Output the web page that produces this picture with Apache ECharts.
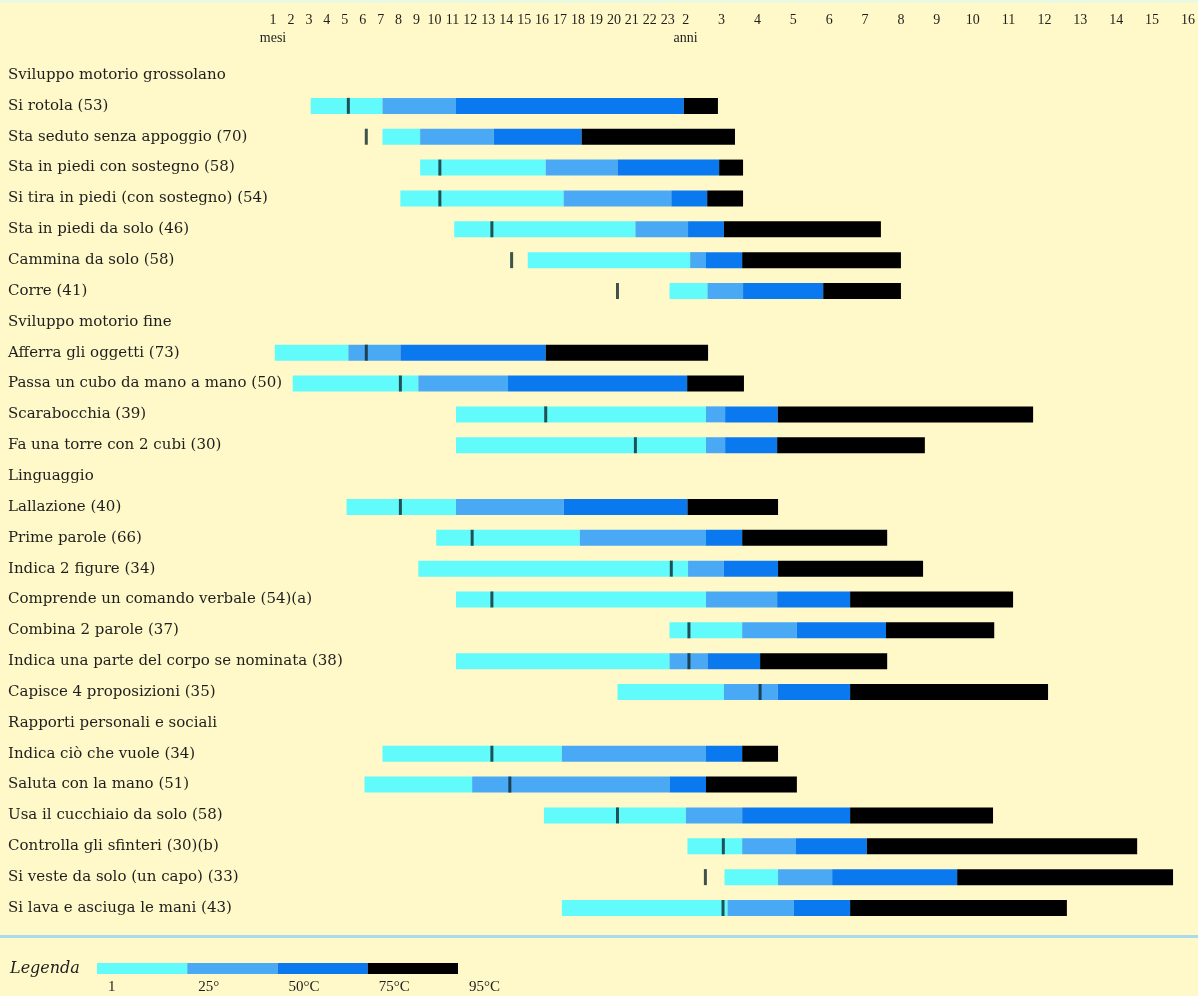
<!DOCTYPE html>
<html>
<head>
<meta charset="utf-8">
<script src="https://cdn.jsdelivr.net/npm/echarts/dist/echarts.min.js"></script>
<style>
html,body{margin:0;padding:0;background:#fff8c8;}
#chart{width:1198px;height:996px;}
</style>
</head>
<body>
<div id="chart"></div>
<script>
// ---- data (ages in months) ----
const categories = [
  'Sviluppo motorio grossolano',
  'Si rotola (53)',
  'Sta seduto senza appoggio (70)',
  'Sta in piedi con sostegno (58)',
  'Si tira in piedi (con sostegno) (54)',
  'Sta in piedi da solo (46)',
  'Cammina da solo (58)',
  'Corre (41)',
  'Sviluppo motorio fine',
  'Afferra gli oggetti (73)',
  'Passa un cubo da mano a mano (50)',
  'Scarabocchia (39)',
  'Fa una torre con 2 cubi (30)',
  'Linguaggio',
  'Lallazione (40)',
  'Prime parole (66)',
  'Indica 2 figure (34)',
  'Comprende un comando verbale (54)(a)',
  'Combina 2 parole (37)',
  'Indica una parte del corpo se nominata (38)',
  'Capisce 4 proposizioni (35)',
  'Rapporti personali e sociali',
  'Indica ciò che vuole (34)',
  'Saluta con la mano (51)',
  'Usa il cucchiaio da solo (58)',
  'Controlla gli sfinteri (30)(b)',
  'Si veste da solo (un capo) (33)',
  'Si lava e asciuga le mani (43)'
];
const startAge = [null, 3.1, 7.1, 9.2, 8.1, 11.1, 15.2, 23.1, null, 1.1, 2.1, 11.2, 11.2, null, 5.1, 10.1, 9.1, 11.2, 23.1, 11.2, 20.2, null, 7.1, 6.1, 16.1, 24.6, 37, 17.1];
const p25Age   = [null, 7.1, 9.2, 16.2, 17.2, 21.2, 25.5, 31.3, null, 5.2, 9.1, 30.8, 30.8, null, 11.2, 18.1, 24.8, 30.8, 42.9, 23.1, 36.8, null, 17.1, 12.1, 24.1, 42.9, 54.9, 38];
const p50Age   = [null, 11.2, 13.3, 20.2, 23.2, 24.8, 30.8, 43.2, null, 8.1, 14.1, 37.2, 37.2, null, 17.2, 30.8, 36.8, 54.6, 61.2, 31.3, 54.8, null, 30.8, 23.1, 42.9, 60.9, 73, 60.2];
const p75Age   = [null, 23.9, 18.2, 35.2, 31.2, 36.8, 42.9, 70, null, 16.2, 24.5, 54.8, 54.6, null, 24.6, 42.9, 54.9, 79, 91, 48.9, 79, null, 42.9, 30.8, 79, 84.6, 114.8, 79];
const p95Age   = [null, 34.8, 40.5, 43.2, 43.2, 89.3, 96, 96, null, 31.5, 43.5, 140.2, 104, null, 54.9, 91.4, 103.4, 133.5, 127.2, 91.4, 145.2, null, 54.9, 61.2, 126.8, 175, 187, 151.5];
const markerAge = [null, 5.2, 6.2, 10.3, 10.3, 13.2, 14.3, 20.2, null, 6.2, 8.1, 16.2, 21.2, null, 8.1, 12.1, 23.2, 13.2, 25.1, 25.1, 48.9, null, 13.2, 14.2, 20.2, 36.6, 30.6, 36.5];

const monthTicks = [1,2,3,4,5,6,7,8,9,10,11,12,13,14,15,16,17,18,19,20,21,22,23];
const yearTicks = [2,3,4,5,6,7,8,9,10,11,12,13,14,15,16];

const legendLabels = ['1', '25°', '50°C', '75°C', '95°C'];
const legendSpan = [1, 1, 1, 1];

const segColors = ['#62fbfb', '#4aa9f4', '#0a79ef', '#000000'];
const markerColor = '#0f272d';
const textColor = '#1e1e1e';

// axis scale: months 1..24 one unit each; after 2 years, one unit per half-year
function pos(m) {
  if (m === null || m === undefined) return null;
  return m <= 24 ? m - 1 : 23 + (m - 24) / 6;
}

const bounds = [startAge, p25Age, p50Age, p75Age, p95Age];
const baseData = startAge.map(v => v === null ? '-' : pos(v));
const segSeries = [0,1,2,3].map(k => ({
  type: 'bar',
  stack: 'b',
  barWidth: 16,
  silent: true,
  itemStyle: { color: segColors[k] },
  data: categories.map((c, i) => bounds[k][i] === null ? '-' : +(pos(bounds[k+1][i]) - pos(bounds[k][i])).toFixed(4))
}));

const markerData = [];
markerAge.forEach((m, i) => { if (m !== null) markerData.push([pos(m), i]); });

const serif = 'DejaVu Serif';
const tickFont = 'Liberation Serif';

const chart = echarts.init(document.getElementById('chart'), null, { renderer: 'canvas' });
chart.setOption({
  backgroundColor: '#fff8c8',
  animation: false,
  grid: [
    { left: 273, right: 10, top: 59.6, height: 863.8, containLabel: false },
    { left: 97, right: 740, top: 963, height: 11, containLabel: false }
  ],
  xAxis: [
    {
      gridIndex: 0, type: 'value', position: 'top', min: 0, max: 51, interval: 1,
      axisLine: { show: false }, axisTick: { show: false }, splitLine: { show: false },
      axisLabel: {
        interval: 0, margin: 12, color: textColor, fontFamily: tickFont, fontSize: 14, lineHeight: 18,
        formatter: function (v) {
          v = Math.round(v);
          if (v <= 22) return monthTicks[v] + (v === 0 ? '\n{s|mesi}' : '\n ');
          if ((v - 23) % 2 === 0) return yearTicks[(v - 23) / 2] + (v === 23 ? '\n{s|anni}' : '\n ');
          return '';
        },
        rich: { s: { fontFamily: tickFont, fontSize: 14, lineHeight: 18, color: textColor } }
      }
    },
    {
      gridIndex: 1, type: 'value', position: 'bottom', min: 0, max: 4, interval: 1,
      axisLine: { show: false }, axisTick: { show: false }, splitLine: { show: false },
      axisLabel: {
        interval: 0, margin: 6, color: textColor, fontFamily: tickFont, fontSize: 15,
        align: 'left', padding: [0, 0, 0, 11],
        formatter: v => legendLabels[Math.round(v)]
      }
    }
  ],
  yAxis: [
    {
      gridIndex: 0, type: 'category', data: categories, inverse: true,
      axisLine: { show: false }, axisTick: { show: false }, splitLine: { show: false },
      axisLabel: { interval: 0, margin: 265, align: 'left', color: textColor, fontFamily: serif, fontSize: 15 }
    },
    {
      gridIndex: 1, type: 'category', data: ['Legenda'],
      axisLine: { show: false }, axisTick: { show: false }, splitLine: { show: false },
      axisLabel: { margin: 87, align: 'left', color: textColor, fontFamily: serif, fontStyle: 'italic', fontSize: 16 }
    }
  ],
  graphic: [
    { type: 'line', silent: true, shape: { x1: 0, y1: 936.5, x2: 1198, y2: 936.5 }, style: { stroke: '#a9dbe9', lineWidth: 3 } },
    { type: 'rect', silent: true, shape: { x: 0, y: 0, width: 1198, height: 3 }, style: { fill: '#e9f9e2' } }
  ],
  series: [
    { type: 'bar', stack: 'b', barWidth: 16, silent: true, itemStyle: { color: 'rgba(0,0,0,0)' }, data: baseData },
    ...segSeries,
    {
      type: 'scatter', symbol: 'rect', symbolSize: [3, 16], silent: true, z: 5,
      itemStyle: { color: markerColor }, data: markerData
    },
    ...legendSpan.map((v, k) => ({
      type: 'bar', xAxisIndex: 1, yAxisIndex: 1, stack: 'leg', barWidth: 11, silent: true,
      itemStyle: { color: segColors[k] }, data: [v]
    }))
  ]
});
</script>
</body>
</html>
